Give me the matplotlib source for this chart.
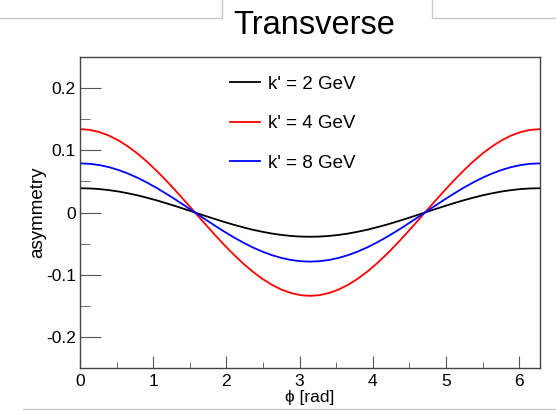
import matplotlib
matplotlib.use("Agg")
import matplotlib.pyplot as plt
from matplotlib.lines import Line2D
from matplotlib.ticker import MultipleLocator

plt.rcParams['font.family'] = ['Liberation Sans', 'DejaVu Sans']

# values
phi = [0.000, 0.131, 0.262, 0.393, 0.524, 0.654, 0.785, 0.916, 1.047, 1.178,
       1.309, 1.440, 1.571, 1.702, 1.833, 1.963, 2.094, 2.225, 2.356, 2.487,
       2.618, 2.749, 2.880, 3.011, 3.142, 3.272, 3.403, 3.534, 3.665, 3.796,
       3.927, 4.058, 4.189, 4.320, 4.451, 4.581, 4.712, 4.843, 4.974, 5.105,
       5.236, 5.367, 5.498, 5.629, 5.760, 5.890, 6.021, 6.152, 6.283]

asym_2gev = [0.039, 0.0387, 0.0377, 0.0360, 0.0338, 0.0309, 0.0276, 0.0237,
             0.0195, 0.0149, 0.0101, 0.0051, 0.0, -0.0051, -0.0101, -0.0149,
             -0.0195, -0.0237, -0.0276, -0.0309, -0.0338, -0.0360, -0.0377,
             -0.0387, -0.039, -0.0387, -0.0377, -0.0360, -0.0338, -0.0309,
             -0.0276, -0.0237, -0.0195, -0.0149, -0.0101, -0.0051, 0.0, 0.0051,
             0.0101, 0.0149, 0.0195, 0.0237, 0.0276, 0.0309, 0.0338, 0.0360,
             0.0377, 0.0387, 0.039]
asym_4gev = [0.134, 0.1329, 0.1294, 0.1238, 0.1160, 0.1063, 0.0948, 0.0816,
             0.0670, 0.0513, 0.0347, 0.0175, 0.0, -0.0175, -0.0347, -0.0513,
             -0.0670, -0.0816, -0.0948, -0.1063, -0.1160, -0.1238, -0.1294,
             -0.1329, -0.134, -0.1329, -0.1294, -0.1238, -0.1160, -0.1063,
             -0.0948, -0.0816, -0.0670, -0.0513, -0.0347, -0.0175, 0.0, 0.0175,
             0.0347, 0.0513, 0.0670, 0.0816, 0.0948, 0.1063, 0.1160, 0.1238,
             0.1294, 0.1329, 0.134]
asym_8gev = [0.079, 0.0783, 0.0763, 0.0730, 0.0684, 0.0627, 0.0559, 0.0481,
             0.0395, 0.0302, 0.0204, 0.0103, 0.0, -0.0103, -0.0204, -0.0302,
             -0.0395, -0.0481, -0.0559, -0.0627, -0.0684, -0.0730, -0.0763,
             -0.0783, -0.079, -0.0783, -0.0763, -0.0730, -0.0684, -0.0627,
             -0.0559, -0.0481, -0.0395, -0.0302, -0.0204, -0.0103, 0.0, 0.0103,
             0.0204, 0.0302, 0.0395, 0.0481, 0.0559, 0.0627, 0.0684, 0.0730,
             0.0763, 0.0783, 0.079]

labels = ["k' = 2 GeV", "k' = 4 GeV", "k' = 8 GeV"]
colors = ["black", "red", "blue"]

fig = plt.figure(figsize=(5.56, 4.11), dpi=100)
W, H = 556.0, 411.0
ax = fig.add_axes([80 / W, 1 - 368 / H, 460 / W, 311 / H])

for ys, c in zip([asym_2gev, asym_4gev, asym_8gev], colors):
    ax.plot(phi, ys, color=c, lw=1.3, solid_joinstyle='round')

ax.set_xlim(0, 6.2832)
ax.set_ylim(-0.25, 0.25)
ax.xaxis.set_major_locator(MultipleLocator(1))
ax.xaxis.set_minor_locator(MultipleLocator(0.5))
ax.yaxis.set_minor_locator(MultipleLocator(0.05))
ax.set_yticks([-0.2, -0.1, 0, 0.1, 0.2])
ax.set_yticklabels(["-0.2", "-0.1", "0", "0.1", "0.2"])
ax.tick_params(which='both', direction='in', top=False, right=False,
               labelsize=12.5, color='#555555')
ax.tick_params(axis='y', which='major', length=15, pad=3)
ax.tick_params(axis='y', which='minor', length=7)
ax.tick_params(axis='x', which='major', length=9, pad=4)
ax.tick_params(axis='x', which='minor', length=4)
for s in ax.spines.values():
    s.set_color('#444444')
    s.set_linewidth(1.0)

ax.set_xlabel("\u03d5 [rad]", fontsize=12.5, labelpad=1)
ax.set_ylabel("asymmetry", fontsize=13.5, labelpad=-0.5)

handles = [Line2D([], [], color=c, lw=1.3) for c in colors]
ax.legend(handles, labels, loc='upper left', bbox_to_anchor=(0.31, 0.965),
          frameon=False, fontsize=13.5, handlelength=1.6, handletextpad=0.4,
          labelspacing=1.2, borderaxespad=0.0)

fig.text(314 / W, 1 - 25 / H, "Transverse", ha='center', va='center', fontsize=23.5)

# canvas frame lines around the title pad
gray = '#c8c8c8'
fig.add_artist(Line2D([0, 222 / W, 222 / W], [1 - 18 / H, 1 - 18 / H, 1.0],
                      color=gray, lw=1))
fig.add_artist(Line2D([432 / W, 432 / W, 1.0], [1.0, 1 - 18 / H, 1 - 18 / H],
                      color=gray, lw=1))
fig.add_artist(Line2D([23 / W, 1.0], [1 - 409 / H, 1 - 409 / H], color=gray, lw=1))

fig.savefig("out.png", dpi=100)
